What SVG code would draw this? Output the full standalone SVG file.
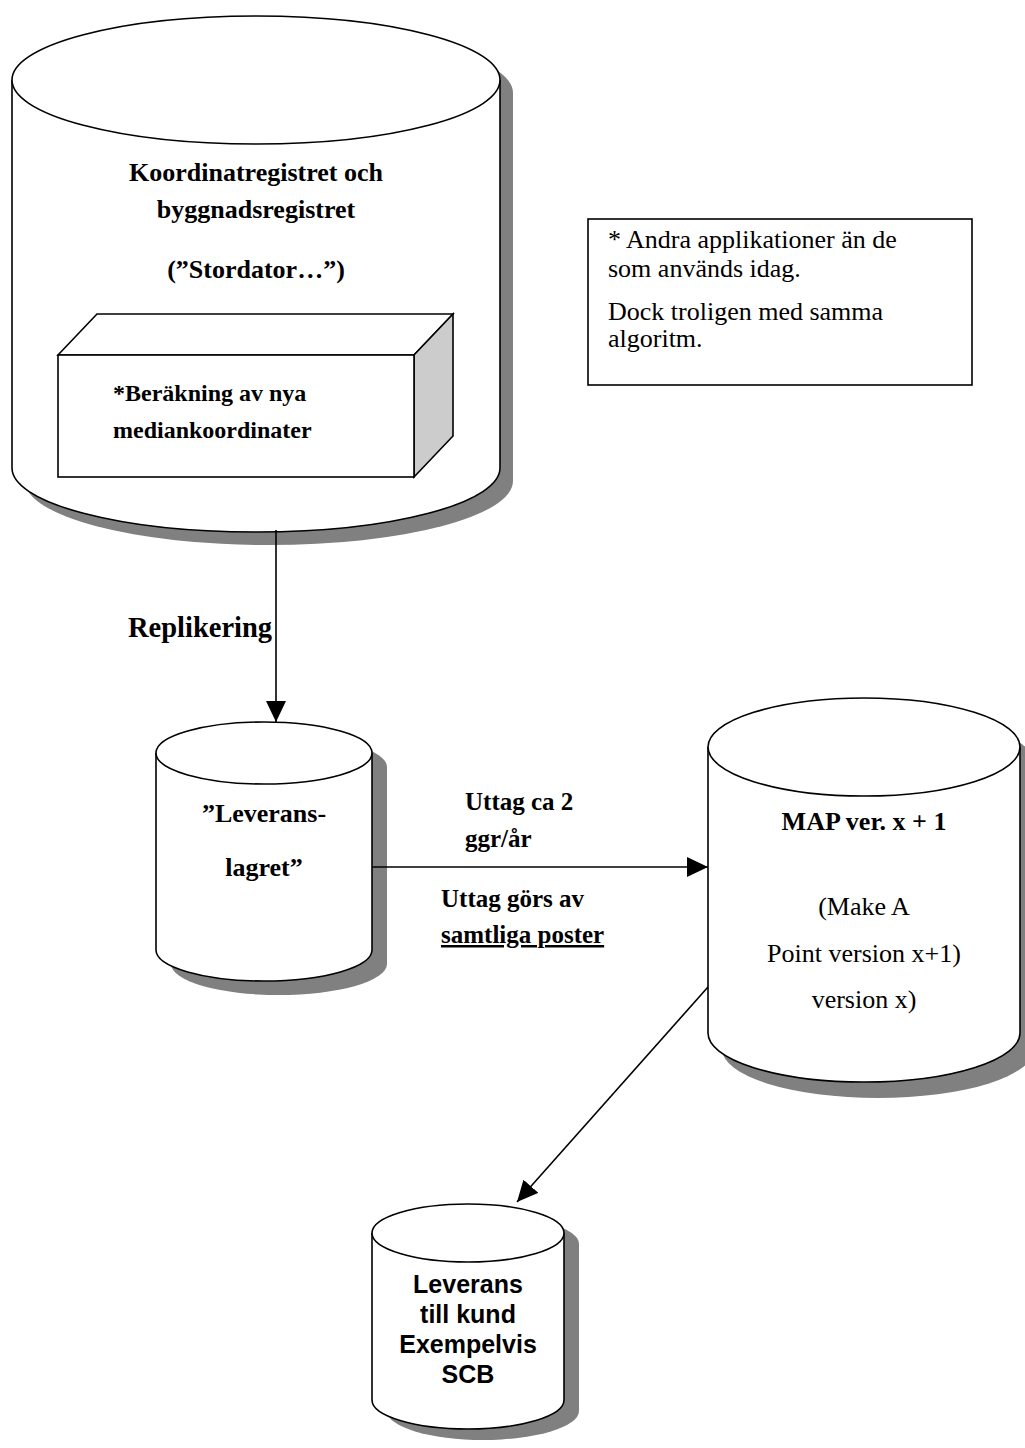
<svg xmlns="http://www.w3.org/2000/svg" width="1025" height="1448" viewBox="0 0 1025 1448">
  <style>
    .body { fill: #ffffff; stroke: #000000; stroke-width: 1.6; }
    .shadow { fill: #808080; stroke: none; }
    .edge { fill: none; stroke: #000000; stroke-width: 1.6; }
    .serif { font-family: "Liberation Serif", "Times New Roman", serif; fill: #000000; }
    .b { font-weight: bold; }
    .sans { font-family: "Liberation Sans", Arial, sans-serif; font-weight: bold; fill: #000000; }
  </style>
  <defs>
    <marker id="arrow" markerUnits="userSpaceOnUse" markerWidth="22" markerHeight="22" refX="21" refY="10" orient="auto">
      <path d="M0,0 L21,10 L0,20 Z" fill="#000000"/>
    </marker>
  </defs>

  <rect x="0" y="0" width="1025" height="1448" fill="#ffffff"/>

  <!-- Main register cylinder -->
  <g id="node-stordator">
    <g transform="translate(13,13)">
      <path class="shadow" d="M12,80 L12,468 A244,64 0 0 0 500,468 L500,80 A244,64 0 0 0 12,80 Z"/>
    </g>
    <path class="body" d="M12,80 L12,468 A244,64 0 0 0 500,468 L500,80"/>
    <ellipse class="body" cx="256" cy="80" rx="244" ry="64"/>
    <text class="serif b" x="256" y="181" font-size="26" text-anchor="middle">Koordinatregistret och</text>
    <text class="serif b" x="256" y="218" font-size="26" text-anchor="middle">byggnadsregistret</text>
    <text class="serif b" x="256" y="278" font-size="26" text-anchor="middle">(”Stordator…”)</text>
  </g>

  <!-- Calculation block inside the register -->
  <g id="node-berakning">
    <path class="body" d="M58,355 L97,314 L453,314 L414,355 Z"/>
    <path d="M414,355 L453,314 L453,436 L414,477 Z" fill="#cccccc" stroke="#000000" stroke-width="1.6"/>
    <rect class="body" x="58" y="355" width="356" height="122"/>
    <text class="serif b" x="113" y="401" font-size="24">*Beräkning av nya</text>
    <text class="serif b" x="113" y="438" font-size="24">mediankoordinater</text>
  </g>

  <!-- Footnote -->
  <g id="node-note">
    <rect x="588" y="219" width="384" height="166" fill="#ffffff" stroke="#000000" stroke-width="1.6"/>
    <text class="serif" x="608" y="248" font-size="26">* Andra applikationer än de</text>
    <text class="serif" x="608" y="277" font-size="26">som används idag.</text>
    <text class="serif" x="608" y="320" font-size="26">Dock troligen med samma</text>
    <text class="serif" x="608" y="347" font-size="26">algoritm.</text>
  </g>

  <!-- Delivery store -->
  <g id="node-leveranslagret">
    <g transform="translate(15,14)">
      <path class="shadow" d="M156,753 L156,950 A108,31 0 0 0 372,950 L372,753 A108,31 0 0 0 156,753 Z"/>
    </g>
    <path class="body" d="M156,753 L156,950 A108,31 0 0 0 372,950 L372,753"/>
    <ellipse class="body" cx="264" cy="753" rx="108" ry="31"/>
    <text class="serif b" x="264" y="822" font-size="26" text-anchor="middle">”Leverans-</text>
    <text class="serif b" x="264" y="876" font-size="26" text-anchor="middle">lagret”</text>
  </g>

  <!-- MAP cylinder -->
  <g id="node-map">
    <g transform="translate(14,16)">
      <path class="shadow" d="M708,747 L708,1033 A156,49 0 0 0 1020,1033 L1020,747 A156,49 0 0 0 708,747 Z"/>
    </g>
    <path class="body" d="M708,747 L708,1033 A156,49 0 0 0 1020,1033 L1020,747"/>
    <ellipse class="body" cx="864" cy="747" rx="156" ry="49"/>
    <text class="serif b" x="864" y="830" font-size="26" text-anchor="middle">MAP ver. x + 1</text>
    <text class="serif" x="864" y="915" font-size="26" text-anchor="middle">(Make A</text>
    <text class="serif" x="864" y="962" font-size="26" text-anchor="middle">Point version x+1)</text>
    <text class="serif" x="864" y="1008" font-size="26" text-anchor="middle">version x)</text>
  </g>

  <!-- Customer delivery cylinder -->
  <g id="node-kund">
    <g transform="translate(15,11)">
      <path class="shadow" d="M372,1233 L372,1400 A96,29 0 0 0 564,1400 L564,1233 A96,29 0 0 0 372,1233 Z"/>
    </g>
    <path class="body" d="M372,1233 L372,1400 A96,29 0 0 0 564,1400 L564,1233"/>
    <ellipse class="body" cx="468" cy="1233" rx="96" ry="29"/>
    <text class="sans" x="468" y="1293" font-size="25" text-anchor="middle">Leverans</text>
    <text class="sans" x="468" y="1323" font-size="25" text-anchor="middle">till kund</text>
    <text class="sans" x="468" y="1353" font-size="25" text-anchor="middle">Exempelvis</text>
    <text class="sans" x="468" y="1383" font-size="25" text-anchor="middle">SCB</text>
  </g>

  <!-- Connectors -->
  <g id="connectors">
    <line class="edge" x1="276" y1="530" x2="276" y2="722" marker-end="url(#arrow)"/>
    <line class="edge" x1="372" y1="867" x2="708" y2="867" marker-end="url(#arrow)"/>
    <line class="edge" x1="708" y1="987" x2="517" y2="1202" marker-end="url(#arrow)"/>
    <text class="serif b" x="128" y="637" font-size="28.5">Replikering</text>
    <text class="serif b" x="465" y="810" font-size="25">Uttag ca 2</text>
    <text class="serif b" x="465" y="847" font-size="25">ggr/år</text>
    <text class="serif b" x="441" y="907" font-size="25">Uttag görs av</text>
    <text class="serif b" x="441" y="943" font-size="25" text-decoration="underline">samtliga poster</text>
  </g>
</svg>
